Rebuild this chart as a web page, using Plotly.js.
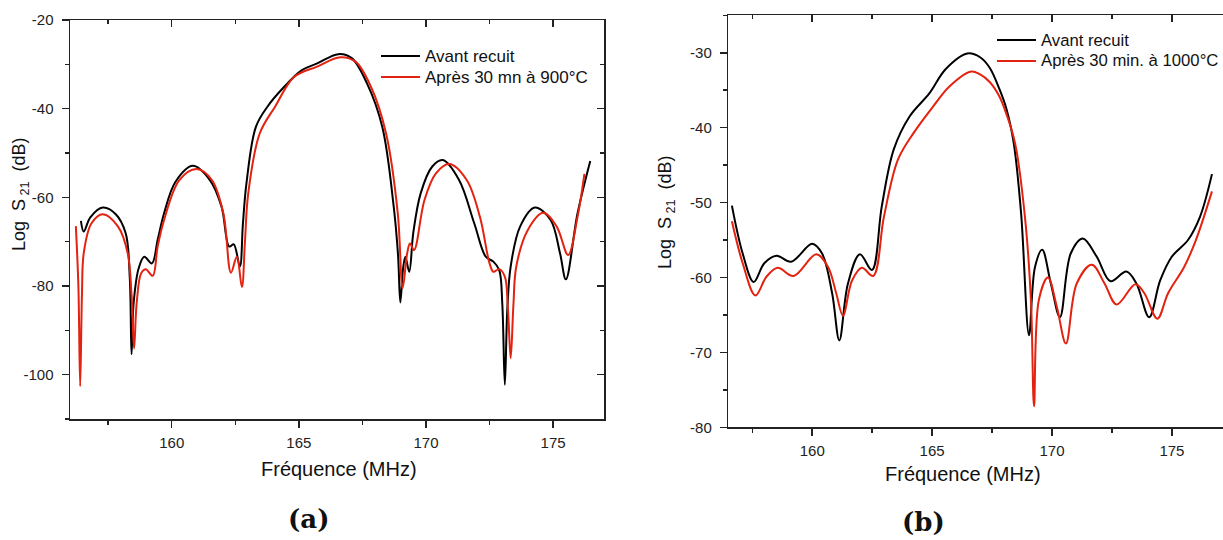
<!DOCTYPE html>
<html><head><meta charset="utf-8">
<script src="https://cdn.plot.ly/plotly-3.0.1.min.js"></script>
<style>html,body{margin:0;padding:0;background:#fff}#chart{width:1223px;height:540px}</style>
</head><body><div id="chart"></div>
<script>
// Panel (a) - before annealing
const aFreqBlack = [156.43,156.54,156.8,157.29,157.8,158.19,158.35,158.42,158.5,158.7,158.92,159.22,159.45,159.7,160.15,160.83,161.5,161.96,162.26,162.44,162.68,162.8,162.94,163.31,163.77,164.37,165.12,165.72,166.55,167.08,167.68,168.28,168.73,168.9,168.99,169.1,169.19,169.34,169.5,169.79,170.24,170.66,171.3,171.9,172.35,172.65,172.88,173.0,173.1,173.2,173.33,173.7,174.28,174.9,175.27,175.5,175.96,176.46];
const aBlack     = [-65.3,-67.7,-64.5,-62.3,-63.8,-68.1,-78,-95.4,-84,-76,-73.4,-74.9,-69.5,-63.6,-56.5,-52.9,-56.1,-62.1,-71.1,-70.6,-75.6,-66,-56.8,-44.1,-39.5,-35.4,-31.3,-29.8,-27.7,-28.6,-34.3,-44.1,-62.1,-73,-83.7,-76,-73.4,-76.8,-68,-59.1,-53.1,-51.6,-56.1,-65.9,-73.4,-74.5,-76.4,-84,-102.3,-85,-75.6,-66.6,-62.3,-65.1,-72.6,-78.5,-63.6,-51.8];
// Panel (a) - after 30 mn at 900 °C
const aFreqRed = [156.23,156.33,156.4,156.47,156.54,156.84,157.29,157.89,158.27,158.42,158.52,158.62,158.8,158.98,159.25,159.45,159.7,160.3,160.98,161.58,162.03,162.33,162.56,162.76,162.88,163.01,163.46,164.07,164.82,165.72,166.63,167.23,167.83,168.43,168.89,169.08,169.26,169.37,169.53,169.94,170.39,170.92,171.6,172.12,172.5,172.65,172.88,173.1,173.22,173.33,173.44,173.55,174.0,174.61,175.14,175.59,175.96,176.23];
const aRed     = [-66.5,-80,-102.6,-82,-72.6,-65.9,-63.8,-66.6,-72.6,-82,-94.1,-84,-77.1,-76.2,-77.7,-71,-65.1,-56.1,-53.6,-56.1,-63.6,-77.0,-73.4,-80.2,-70,-59.1,-45.6,-39.5,-32.8,-30.5,-28.4,-29.4,-35.0,-45.6,-63.6,-80.5,-72.6,-70.4,-71.9,-60.6,-54.6,-52.5,-56.1,-64.4,-74.9,-76.8,-76.2,-77.9,-85,-96.3,-84,-75.6,-67.4,-63.5,-66.6,-73.0,-64.4,-54.7];
// Panel (b) - before annealing
const bFreqBlack = [156.65,157.1,157.56,158.0,158.51,159.12,160.0,160.41,160.83,161.13,161.49,161.99,162.49,162.9,163.4,164.06,164.89,165.56,166.47,167.0,167.4,167.8,168.1,168.4,168.71,169.04,169.29,169.59,169.95,170.33,170.78,171.28,171.86,172.44,173.1,173.52,174.05,174.51,175.0,175.67,176.17,176.67];
const bBlack     = [-50.4,-56.8,-60.6,-58.1,-57.1,-57.9,-55.5,-56.8,-62.1,-68.4,-60.8,-56.9,-59.0,-50.5,-42.9,-38.5,-35.4,-32.2,-30.1,-30.6,-32.0,-34.8,-37.5,-42.0,-51.4,-67.7,-58.6,-56.3,-60.8,-65.3,-56.8,-54.8,-57.2,-60.5,-59.2,-60.8,-65.3,-60.4,-57.2,-55.0,-51.9,-46.2];
// Panel (b) - after 30 min at 1000 °C
const bFreqRed = [156.65,157.1,157.63,158.09,158.56,159.22,160.17,160.66,161.0,161.28,161.66,162.07,162.54,162.99,163.57,164.23,165.06,165.72,166.63,167.0,167.4,167.8,168.1,168.46,168.87,169.12,169.25,169.45,169.83,170.2,170.58,171.03,171.66,172.19,172.69,173.48,173.85,174.39,174.84,175.51,176.0,176.67];
const bRed     = [-52.5,-58.1,-62.4,-59.9,-58.7,-59.8,-56.9,-58.6,-62.1,-65.1,-60.4,-58.7,-59.8,-51.9,-44.3,-40.7,-37.1,-34.5,-32.5,-32.9,-33.9,-35.8,-38.2,-42.1,-51.9,-63.0,-77.2,-63.0,-60.0,-63.9,-68.8,-60.8,-58.3,-60.8,-63.6,-60.9,-62.1,-65.5,-62.1,-58.6,-55.0,-48.5];

// Tick labels
const xTickVals = [160, 165, 170, 175];
const xTickText = ['160', '165', '170', '175'];
const aYTickVals = [-100, -80, -60, -40, -20];
const aYTickText = ['-100', '-80', '-60', '-40', '-20'];
const bYTickVals = [-80, -70, -60, -50, -40, -30];
const bYTickText = ['-80', '-70', '-60', '-50', '-40', '-30'];

const nameBlack = 'Avant recuit';
const nameRedA = 'Après 30 mn à 900°C';
const nameRedB = 'Après 30 min. à 1000°C';
const xTitle = 'Fréquence (MHz)';
const yTitle = 'Log  S<sub> 21</sub>  (dB)';
const panelLabels = ['(a)', '(b)'];

const BLACK = '#000000', RED = '#e3220f';
const FONT = 'Liberation Sans, Arial, sans-serif';
const lineStyle = (c) => ({color: c, width: 2, shape: 'spline', smoothing: 1.0});

const traces = [
  {x: aFreqBlack, y: aBlack, xaxis: 'x', yaxis: 'y', mode: 'lines', line: lineStyle(BLACK), showlegend: false},
  {x: aFreqRed, y: aRed, xaxis: 'x', yaxis: 'y', mode: 'lines', line: lineStyle(RED), showlegend: false},
  {x: bFreqBlack, y: bBlack, xaxis: 'x2', yaxis: 'y2', mode: 'lines', line: lineStyle(BLACK), showlegend: false},
  {x: bFreqRed, y: bRed, xaxis: 'x2', yaxis: 'y2', mode: 'lines', line: lineStyle(RED), showlegend: false}
];

const tickFont = {family: FONT, size: 15, color: '#222'};
const TC = '#222';
function mainX(domain, range, anchor) {
  return {domain, range, anchor, showgrid: false, zeroline: false, showline: true, linecolor: TC, linewidth: 1.5, mirror: true,
    ticks: 'outside', ticklen: 7, tickwidth: 1.5, tickcolor: TC, tickmode: 'array', tickvals: xTickVals, ticktext: xTickText,
    tickfont: tickFont, ticklabelstandoff: 2,
    minor: {ticks: 'outside', ticklen: 4, tickwidth: 1.5, tickcolor: TC, dtick: 2.5, tick0: 157.5, showgrid: false}};
}
function mainY(domain, range, anchor, vals, text, dt, mir) {
  return {domain, range, anchor, showgrid: false, zeroline: false, showline: true, linecolor: TC, linewidth: 1.5, mirror: mir,
    ticks: 'outside', ticklen: 7, tickwidth: 1.5, tickcolor: TC, tickmode: 'array', tickvals: vals, ticktext: text,
    tickfont: tickFont, ticklabelstandoff: 5,
    minor: {ticks: 'outside', ticklen: 4, tickwidth: 1.5, tickcolor: TC, dtick: dt / 2, tick0: 0, showgrid: false}};
}
function mirX(over, range, anchor) {
  return {overlaying: over, range, anchor, side: 'top', showgrid: false, zeroline: false, showline: false, showticklabels: false,
    ticks: 'inside', ticklen: 7, tickwidth: 1.5, tickcolor: TC, tickmode: 'array', tickvals: xTickVals,
    minor: {ticks: 'inside', ticklen: 4, tickwidth: 1.5, tickcolor: TC, dtick: 2.5, tick0: 157.5, showgrid: false}};
}
function mirY(over, range, anchor, vals, dt) {
  return {overlaying: over, range, anchor, side: 'right', showgrid: false, zeroline: false, showline: false, showticklabels: false,
    ticks: 'inside', ticklen: 7, tickwidth: 1.5, tickcolor: TC, tickmode: 'array', tickvals: vals,
    minor: {ticks: 'inside', ticklen: 4, tickwidth: 1.5, tickcolor: TC, dtick: dt / 2, tick0: 0, showgrid: false}};
}

const W = 1223, H = 540;
const px = (v) => v / W, py = (v) => 1 - v / H;
const rangeXa = [156, 177], rangeYa = [-110, -20];
const rangeXb = [156.5, 177.13], rangeYb = [-80, -25];

// invisible traces so the mirrored tick axes are drawn
traces.push({x: rangeXa, y: rangeYa, xaxis: 'x3', yaxis: 'y3', mode: 'lines', line: {width: 0}, hoverinfo: 'skip', showlegend: false});
traces.push({x: rangeXb, y: rangeYb, xaxis: 'x4', yaxis: 'y4', mode: 'lines', line: {width: 0}, hoverinfo: 'skip', showlegend: false});

const ann = [];
const shapes = [];
function legendRow(x0, x1, y, color, text, size) {
  shapes.push({type: 'line', xref: 'paper', yref: 'paper', x0: px(x0), x1: px(x1), y0: py(y), y1: py(y), line: {color, width: 2.2}});
  ann.push({xref: 'paper', yref: 'paper', x: px(x1 + 3), y: py(y), xanchor: 'left', yanchor: 'middle', text, showarrow: false,
    font: {family: FONT, size: size, color: '#111'}});
}
legendRow(381, 420, 56, BLACK, nameBlack, 17);
legendRow(381, 420, 77, RED, nameRedA, 17);
legendRow(997, 1036, 40, BLACK, nameBlack, 16.7);
legendRow(997, 1036, 61, RED, nameRedB, 16.7);

const titleFont = {family: FONT, size: 20, color: '#111'};
const yTitleFont = {family: FONT, size: 18, color: '#111'};
ann.push({xref: 'paper', yref: 'paper', x: px(339), y: py(469), text: xTitle, showarrow: false, xanchor: 'center', yanchor: 'middle', font: titleFont});
ann.push({xref: 'paper', yref: 'paper', x: px(963), y: py(474), text: xTitle, showarrow: false, xanchor: 'center', yanchor: 'middle', font: titleFont});
ann.push({xref: 'paper', yref: 'paper', x: px(20), y: py(194), text: yTitle, textangle: -90, showarrow: false, xanchor: 'center', yanchor: 'middle', font: yTitleFont});
ann.push({xref: 'paper', yref: 'paper', x: px(666), y: py(212), text: yTitle, textangle: -90, showarrow: false, xanchor: 'center', yanchor: 'middle', font: yTitleFont});
const labFont = {family: 'DejaVu Serif, serif', size: 26, color: '#111'};
ann.push({xref: 'paper', yref: 'paper', x: px(308), y: py(519), text: '<b>' + panelLabels[0] + '</b>', showarrow: false, xanchor: 'center', yanchor: 'middle', font: labFont});
ann.push({xref: 'paper', yref: 'paper', x: px(923), y: py(522), text: '<b>' + panelLabels[1] + '</b>', showarrow: false, xanchor: 'center', yanchor: 'middle', font: labFont});

const domXa = [px(70), px(604)], domYa = [py(419), py(20)];
const domXb = [px(728.3), 1], domYb = [py(427.3), py(15.3)];

const layout = {
  width: W, height: H, margin: {l: 0, r: 0, t: 0, b: 0}, paper_bgcolor: '#fff', plot_bgcolor: 'rgba(0,0,0,0)',
  showlegend: false,
  xaxis: mainX(domXa, rangeXa, 'y'),
  yaxis: mainY(domYa, rangeYa, 'x', aYTickVals, aYTickText, 20, true),
  xaxis2: mainX(domXb, rangeXb, 'y2'),
  yaxis2: mainY(domYb, rangeYb, 'x2', bYTickVals, bYTickText, 10, false),
  xaxis3: Object.assign(mirX('x', rangeXa, 'y3'), {domain: domXa}),
  yaxis3: Object.assign(mirY('y', rangeYa, 'x3', aYTickVals, 20), {domain: domYa}),
  xaxis4: Object.assign(mirX('x2', rangeXb, 'y4'), {domain: domXb}),
  yaxis4: Object.assign(mirY('y2', rangeYb, 'x4', bYTickVals, 10), {domain: domYb, ticks: '', minor: {ticks: ''}}),
  annotations: ann, shapes: shapes
};
Plotly.newPlot('chart', traces, layout, {staticPlot: true, displayModeBar: false});
</script></body></html>
